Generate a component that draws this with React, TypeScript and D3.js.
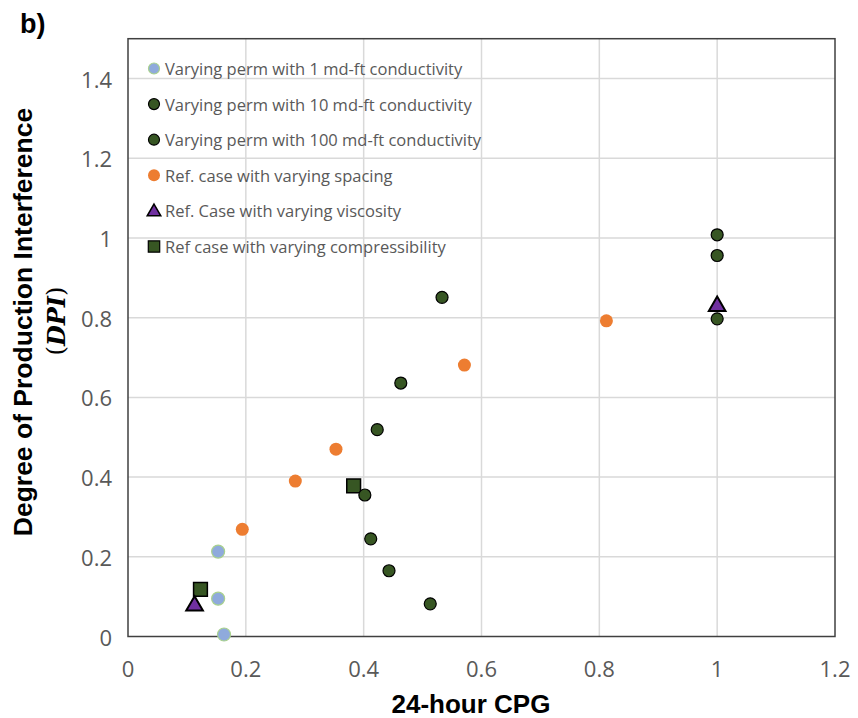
import React from "react";
import * as d3 from "d3";

// series values: [CPG, DPI]
const perm1: [number, number][] = [
  [0.153, 0.213],
  [0.153, 0.095],
  [0.163, 0.005],
];
const perm10: [number, number][] = [
  [0.402, 0.355],
  [0.412, 0.245],
  [0.443, 0.165],
  [0.513, 0.082],
  [1.0, 0.797],
];
const perm100: [number, number][] = [
  [0.423, 0.519],
  [0.463, 0.636],
  [0.533, 0.851],
  [1.0, 0.956],
  [1.0, 1.008],
];
const spacing: [number, number][] = [
  [0.194, 0.269],
  [0.284, 0.39],
  [0.353, 0.47],
  [0.571, 0.681],
  [0.812, 0.792],
];
const viscosity: [number, number][] = [
  [0.113, 0.077],
  [1.0, 0.829],
];
const compressibility: [number, number][] = [
  [0.123, 0.118],
  [0.383, 0.378],
];

const xTicks = [0, 0.2, 0.4, 0.6, 0.8, 1, 1.2];
const yTicks = [0, 0.2, 0.4, 0.6, 0.8, 1, 1.2, 1.4];

const legendLabels = [
  "Varying perm with 1 md-ft conductivity",
  "Varying perm with 10 md-ft conductivity",
  "Varying perm with 100 md-ft conductivity",
  "Ref. case with varying spacing",
  "Ref. Case with varying viscosity",
  "Ref case with varying compressibility",
];

const W = 858;
const H = 718;
const left = 128;
const right = 835;
const bottom = 636.5;
const top = 38.7;

const tickFont = "'Open Sans', sans-serif";
const gray = "#595959";
const darkGreen = "#375623";

export default function App() {
  const x = d3.scaleLinear().domain([0, 1.2]).range([left, right]);
  const y = d3.scaleLinear().domain([0, 1.5]).range([bottom, top]);

  const tri = d3.symbol().type(d3.symbolTriangle).size(120)()!;
  const triSmall = d3.symbol().type(d3.symbolTriangle).size(80)()!;
  const sq = d3.symbol().type(d3.symbolSquare).size(190)()!;
  const sqSmall = d3.symbol().type(d3.symbolSquare).size(130)()!;

  const legendY = d3.scaleLinear().domain([0, 5]).range([68.5, 246.5]);
  const legendX = 154;

  const legendMarker = (i: number, cy: number) => {
    if (i === 0)
      return <circle cx={legendX} cy={cy} r={5.5} fill="#8faadc" stroke="#a9d18e" strokeWidth={1.2} />;
    if (i === 1 || i === 2)
      return <circle cx={legendX} cy={cy} r={5.5} fill={darkGreen} stroke="#000" strokeWidth={1.2} />;
    if (i === 3) return <circle cx={legendX} cy={cy} r={6} fill="#ed7d31" />;
    if (i === 4)
      return (
        <path d={triSmall} transform={`translate(${legendX},${cy + 1})`} fill="#7030a0" stroke="#000" strokeWidth={1.5} />
      );
    return <path d={sqSmall} transform={`translate(${legendX},${cy})`} fill={darkGreen} stroke="#000" strokeWidth={1.2} />;
  };

  return (
    <svg width={W} height={H} style={{ position: "absolute", left: 0, top: 0, background: "#fff" }}>
      <rect x={0} y={0} width={W} height={H} fill="#fff" />

      {/* gridlines */}
      {xTicks.slice(1, -1).map((t) => (
        <line key={"gx" + t} x1={x(t)} x2={x(t)} y1={top} y2={bottom} stroke="#d9d9d9" strokeWidth={1.5} />
      ))}
      {yTicks.slice(1).map((t) => (
        <line key={"gy" + t} x1={left} x2={right} y1={y(t)} y2={y(t)} stroke="#d9d9d9" strokeWidth={1.5} />
      ))}

      {/* frame */}
      <rect x={left} y={top} width={right - left} height={bottom - top} fill="none" stroke="#404040" strokeWidth={1.5} />

      {/* tick labels */}
      {xTicks.map((t) => (
        <text key={"tx" + t} x={x(t)} y={677} textAnchor="middle" fontFamily={tickFont} fontSize={22} fill={gray}>
          {d3.format("~g")(t)}
        </text>
      ))}
      {yTicks.map((t) => (
        <text
          key={"ty" + t}
          x={112}
          y={y(t)}
          textAnchor="end"
          dominantBaseline="central"
          fontFamily={tickFont}
          fontSize={22}
          fill={gray}
        >
          {d3.format("~g")(t)}
        </text>
      ))}

      {/* axis titles */}
      <text x={471} y={713} textAnchor="middle" fontFamily="Arial, 'Liberation Sans', sans-serif" fontWeight="bold" fontSize={26}>
        24-hour CPG
      </text>
      <text
        transform="translate(23,322) rotate(-90)"
        textAnchor="middle"
        dominantBaseline="central"
        fontFamily="Arial, 'Liberation Sans', sans-serif"
        fontWeight="bold"
        fontSize={26.5}
      >
        Degree of Production Interference
      </text>
      <text
        transform="translate(56,321) rotate(-90)"
        textAnchor="middle"
        dominantBaseline="central"
        fontFamily="'DejaVu Serif', serif"
        fontSize={24}
      >
        <tspan>(</tspan>
        <tspan fontStyle="italic" fontWeight="bold">DPI</tspan>
        <tspan>)</tspan>
      </text>

      <text x={20} y={33} fontFamily="Arial, 'Liberation Sans', sans-serif" fontWeight="bold" fontSize={27}>
        b)
      </text>

      {/* markers */}
      {compressibility.map((d, i) => (
        <path key={"sq" + i} d={sq} transform={`translate(${x(d[0])},${y(d[1])})`} fill={darkGreen} stroke="#000" strokeWidth={1.5} />
      ))}
      {viscosity.map((d, i) => (
        <path key={"tr" + i} d={tri} transform={`translate(${x(d[0])},${y(d[1])})`} fill="#7030a0" stroke="#000" strokeWidth={2} />
      ))}
      {spacing.map((d, i) => (
        <circle key={"sp" + i} cx={x(d[0])} cy={y(d[1])} r={6.5} fill="#ed7d31" />
      ))}
      {[...perm10, ...perm100].map((d, i) => (
        <circle key={"pg" + i} cx={x(d[0])} cy={y(d[1])} r={6} fill={darkGreen} stroke="#000" strokeWidth={1.2} />
      ))}
      {perm1.map((d, i) => (
        <circle key={"p1" + i} cx={x(d[0])} cy={y(d[1])} r={6.5} fill="#8faadc" stroke="#a9d18e" strokeWidth={1.2} />
      ))}

      {/* legend */}
      {legendLabels.map((l, i) => (
        <g key={"lg" + i}>
          {legendMarker(i, legendY(i))}
          <text x={165} y={legendY(i)} dominantBaseline="central" fontFamily={tickFont} fontSize={16.5} fill={gray}>
            {l}
          </text>
        </g>
      ))}
    </svg>
  );
}
